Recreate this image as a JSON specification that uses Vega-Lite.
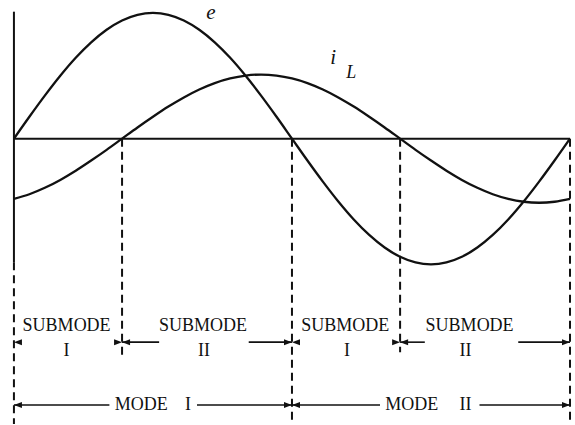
{
  "$schema": "https://vega.github.io/schema/vega-lite/v6.json",
  "width": 575,
  "height": 425,
  "autosize": {"type": "fit", "contains": "padding"},
  "padding": 0,
  "background": "white",
  "config": {"view": {"stroke": null}},
  "encoding": {
    "x": {"field": "t", "type": "quantitative", "scale": {"domain": [-9.02, 361.29], "nice": false, "zero": false}, "axis": null},
    "y": {"field": "v", "type": "quantitative", "scale": {"domain": [-2.27, 1.103], "nice": false, "zero": false}, "axis": null}
  },
  "layer": [
    {
      "data": {"values": [
        {"s": "e", "t": 0, "v": 0}, {"s": "e", "t": 10, "v": 0.174}, {"s": "e", "t": 20, "v": 0.342}, {"s": "e", "t": 30, "v": 0.5},
        {"s": "e", "t": 40, "v": 0.643}, {"s": "e", "t": 50, "v": 0.766}, {"s": "e", "t": 60, "v": 0.866}, {"s": "e", "t": 70, "v": 0.94},
        {"s": "e", "t": 80, "v": 0.985}, {"s": "e", "t": 90, "v": 1}, {"s": "e", "t": 100, "v": 0.985}, {"s": "e", "t": 110, "v": 0.94},
        {"s": "e", "t": 120, "v": 0.866}, {"s": "e", "t": 130, "v": 0.766}, {"s": "e", "t": 140, "v": 0.643}, {"s": "e", "t": 150, "v": 0.5},
        {"s": "e", "t": 160, "v": 0.342}, {"s": "e", "t": 170, "v": 0.174}, {"s": "e", "t": 180, "v": 0}, {"s": "e", "t": 190, "v": -0.174},
        {"s": "e", "t": 200, "v": -0.342}, {"s": "e", "t": 210, "v": -0.5}, {"s": "e", "t": 220, "v": -0.643}, {"s": "e", "t": 230, "v": -0.766},
        {"s": "e", "t": 240, "v": -0.866}, {"s": "e", "t": 250, "v": -0.94}, {"s": "e", "t": 260, "v": -0.985}, {"s": "e", "t": 270, "v": -1},
        {"s": "e", "t": 280, "v": -0.985}, {"s": "e", "t": 290, "v": -0.94}, {"s": "e", "t": 300, "v": -0.866}, {"s": "e", "t": 310, "v": -0.766},
        {"s": "e", "t": 320, "v": -0.643}, {"s": "e", "t": 330, "v": -0.5}, {"s": "e", "t": 340, "v": -0.342}, {"s": "e", "t": 350, "v": -0.174},
        {"s": "e", "t": 360, "v": 0},
        {"s": "iL", "t": 0, "v": -0.479}, {"s": "iL", "t": 10, "v": -0.442}, {"s": "iL", "t": 20, "v": -0.391}, {"s": "iL", "t": 30, "v": -0.328},
        {"s": "iL", "t": 40, "v": -0.255}, {"s": "iL", "t": 50, "v": -0.174}, {"s": "iL", "t": 60, "v": -0.089}, {"s": "iL", "t": 70, "v": 0},
        {"s": "iL", "t": 80, "v": 0.089}, {"s": "iL", "t": 90, "v": 0.174}, {"s": "iL", "t": 100, "v": 0.255}, {"s": "iL", "t": 110, "v": 0.328},
        {"s": "iL", "t": 120, "v": 0.391}, {"s": "iL", "t": 130, "v": 0.442}, {"s": "iL", "t": 140, "v": 0.479}, {"s": "iL", "t": 150, "v": 0.502},
        {"s": "iL", "t": 160, "v": 0.51}, {"s": "iL", "t": 170, "v": 0.502}, {"s": "iL", "t": 180, "v": 0.479}, {"s": "iL", "t": 190, "v": 0.442},
        {"s": "iL", "t": 200, "v": 0.391}, {"s": "iL", "t": 210, "v": 0.328}, {"s": "iL", "t": 220, "v": 0.255}, {"s": "iL", "t": 230, "v": 0.174},
        {"s": "iL", "t": 240, "v": 0.089}, {"s": "iL", "t": 250, "v": 0}, {"s": "iL", "t": 260, "v": -0.089}, {"s": "iL", "t": 270, "v": -0.174},
        {"s": "iL", "t": 280, "v": -0.255}, {"s": "iL", "t": 290, "v": -0.328}, {"s": "iL", "t": 300, "v": -0.391}, {"s": "iL", "t": 310, "v": -0.442},
        {"s": "iL", "t": 320, "v": -0.479}, {"s": "iL", "t": 330, "v": -0.502}, {"s": "iL", "t": 340, "v": -0.51}, {"s": "iL", "t": 350, "v": -0.502},
        {"s": "iL", "t": 360, "v": -0.479}
      ]},
      "mark": {"type": "line", "interpolate": "monotone", "color": "#111", "strokeWidth": 2.3},
      "encoding": {"detail": {"field": "s"}}
    },
    {
      "data": {"values": [
        {"t": 0, "v": 0, "t2": 360, "v2": 0},
        {"t": 0, "v": 1.01, "t2": 0, "v2": -0.984}
      ]},
      "mark": {"type": "rule", "color": "#111", "strokeWidth": 2},
      "encoding": {"x2": {"field": "t2"}, "y2": {"field": "v2"}}
    },
    {
      "data": {"values": [
        {"t": 0, "v": -0.984, "t2": 0, "v2": -2.27},
        {"t": 70, "v": 0, "t2": 70, "v2": -1.75},
        {"t": 180, "v": 0, "t2": 180, "v2": -2.27},
        {"t": 250, "v": 0, "t2": 250, "v2": -1.7},
        {"t": 360, "v": 0, "t2": 360, "v2": -2.27}
      ]},
      "mark": {"type": "rule", "color": "#111", "strokeWidth": 2, "strokeDash": [8, 5]},
      "encoding": {"x2": {"field": "t2"}, "y2": {"field": "v2"}}
    },
    {
      "data": {"values": [
        {"t": 70, "v": -1.619, "t2": 94, "v2": -1.619},
        {"t": 152, "v": -1.619, "t2": 180, "v2": -1.619},
        {"t": 250, "v": -1.619, "t2": 266, "v2": -1.619},
        {"t": 326.5, "v": -1.619, "t2": 360, "v2": -1.619},
        {"t": 0, "v": -2.119, "t2": 61.8, "v2": -2.119},
        {"t": 118.5, "v": -2.119, "t2": 180, "v2": -2.119},
        {"t": 180, "v": -2.119, "t2": 237, "v2": -2.119},
        {"t": 301.4, "v": -2.119, "t2": 360, "v2": -2.119}
      ]},
      "mark": {"type": "rule", "color": "#111", "strokeWidth": 1.6},
      "encoding": {"x2": {"field": "t2"}, "y2": {"field": "v2"}}
    },
    {
      "data": {"values": [
        {"t": 0, "v": -1.619}, {"t": 70, "v": -1.619}, {"t": 180, "v": -1.619}, {"t": 250, "v": -1.619},
        {"t": 0, "v": -2.119}, {"t": 180, "v": -2.119}
      ]},
      "mark": {"type": "point", "shape": "M0,0L1,-0.38L1,0.38Z", "filled": true, "size": 256, "color": "#111", "opacity": 1},
      "encoding": {}
    },
    {
      "data": {"values": [
        {"t": 70, "v": -1.619}, {"t": 180, "v": -1.619}, {"t": 250, "v": -1.619}, {"t": 360, "v": -1.619},
        {"t": 180, "v": -2.119}, {"t": 360, "v": -2.119}
      ]},
      "mark": {"type": "point", "shape": "M0,0L-1,-0.38L-1,0.38Z", "filled": true, "size": 256, "color": "#111", "opacity": 1},
      "encoding": {}
    },
    {
      "data": {"values": [
        {"t": 34.1, "v": -1.492, "label": "SUBMODE"},
        {"t": 34.1, "v": -1.69, "label": "I"},
        {"t": 122.4, "v": -1.492, "label": "SUBMODE"},
        {"t": 123, "v": -1.69, "label": "II"},
        {"t": 214.5, "v": -1.492, "label": "SUBMODE"},
        {"t": 215.7, "v": -1.69, "label": "I"},
        {"t": 295, "v": -1.492, "label": "SUBMODE"},
        {"t": 292.4, "v": -1.69, "label": "II"},
        {"t": 82.4, "v": -2.119, "label": "MODE"},
        {"t": 112.7, "v": -2.119, "label": "I"},
        {"t": 257.6, "v": -2.119, "label": "MODE"},
        {"t": 292.4, "v": -2.119, "label": "II"}
      ]},
      "mark": {"type": "text", "font": "Liberation Serif", "fontSize": 18, "color": "#111", "align": "center", "baseline": "middle"},
      "encoding": {"text": {"field": "label"}}
    },
    {
      "data": {"values": [
        {"t": 127.5, "v": 1.0, "label": "e"},
        {"t": 206.7, "v": 0.643, "label": "i"}
      ]},
      "mark": {"type": "text", "font": "Liberation Serif", "fontStyle": "italic", "fontSize": 21, "color": "#111", "align": "center", "baseline": "middle"},
      "encoding": {"text": {"field": "label"}}
    },
    {
      "data": {"values": [
        {"t": 218.3, "v": 0.524, "label": "L"}
      ]},
      "mark": {"type": "text", "font": "Liberation Serif", "fontStyle": "italic", "fontSize": 18, "color": "#111", "align": "center", "baseline": "middle"},
      "encoding": {"text": {"field": "label"}}
    }
  ]
}
